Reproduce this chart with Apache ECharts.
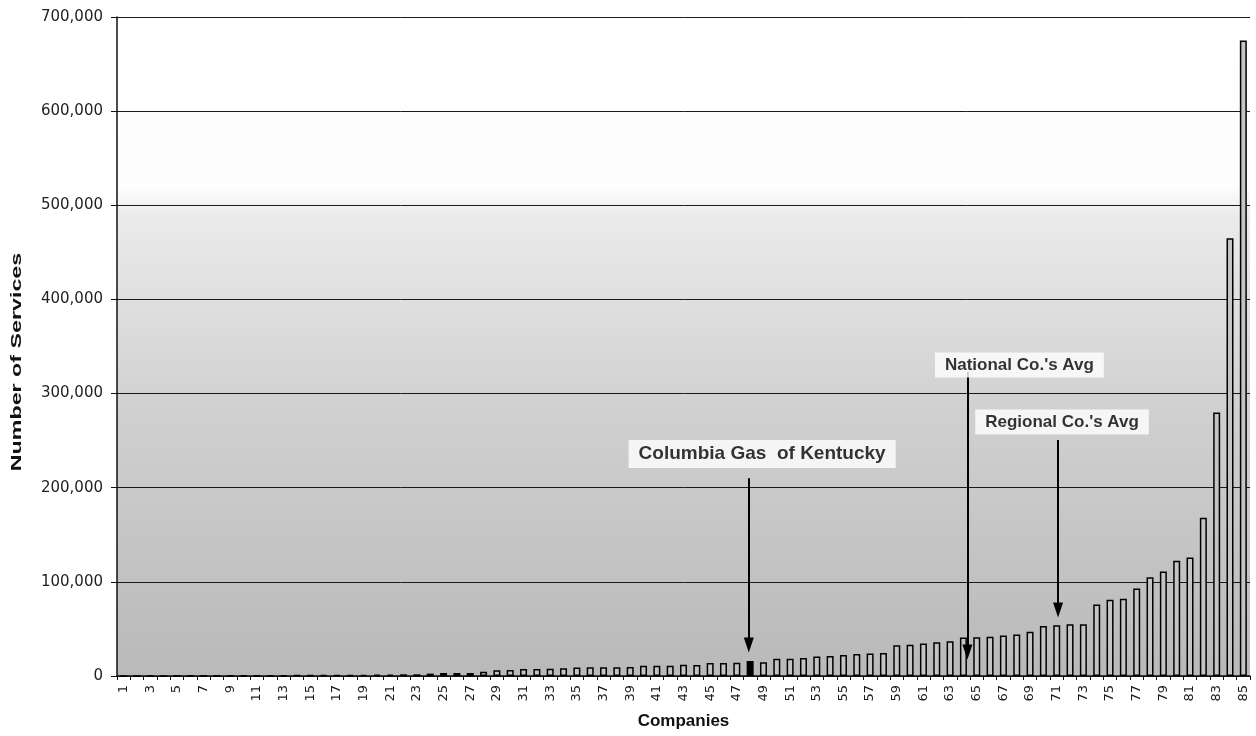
<!DOCTYPE html>
<html>
<head>
<meta charset="utf-8">
<script src="https://cdn.jsdelivr.net/npm/echarts@6/dist/echarts.min.js"></script>
<style>
  html, body { margin: 0; padding: 0; background: #ffffff; }
  #chart { width: 1256px; height: 736px; }
</style>
</head>
<body>
<div id="chart"></div>
<script>
// Number of services per gas distribution company, sorted ascending
const companies = [];
for (let i = 1; i <= 85; i++) companies.push(String(i));

const services = [
  100, 150, 200, 250, 300, 350, 400, 450, 500, 550,
  600, 700, 750, 800, 900, 1000, 1100, 1200, 1300, 1400,
  1500, 1800, 1800, 2500, 3200, 3200, 3200, 4600, 6000, 6400,
  7400, 7400, 7800, 8100, 8900, 9200, 9200, 9200, 9600, 11000,
  11000, 11000, 12000, 11700, 13800, 13800, 14200, 16000, 14500, 18400,
  18400, 19100, 20600, 21300, 22300, 23400, 23800, 24500, 32600, 33300,
  34400, 35800, 36900, 40800, 41100, 41800, 43000, 44000, 47000, 53000,
  54000, 55000, 55000, 76000, 81000, 82000, 93000, 105000, 111000, 122500,
  126000, 168000, 280000, 465000, 675000
];

// Highlighted company (Columbia Gas of Kentucky), 1-based position
const highlightIndex = 48;

const yTicks = [0, 100000, 200000, 300000, 400000, 500000, 600000, 700000];
const yTitle = 'Number of Services';

// Callouts: label text, label centre (company position, services), arrow x, arrow start, arrow tip
const calloutText = ['Columbia Gas  of Kentucky', "National Co.'s Avg", "Regional Co.'s Avg"];
const calloutLabelX = [48.9, 68.2, 71.4];
const calloutLabelY = [235800, 330400, 269800];
const arrowX = [47.9, 64.3, 71.1];
const arrowFrom = [210000, 323000, 250700];
const arrowTo = [33000, 25500, 70000];

const chart = echarts.init(document.getElementById('chart'), null, { renderer: 'canvas' });

const barData = services.map((v, i) => ({
  value: v,
  itemStyle: (i + 1 === highlightIndex)
    ? { color: '#000000', borderColor: '#000000' }
    : undefined
}));

const arrowLines = arrowX.map((x, i) => [
  { coord: [x, arrowFrom[i]], symbol: 'none' },
  { coord: [x, arrowTo[i]], symbol: 'triangle', symbolSize: [10, 15], symbolRotate: 180 }
]);

// the company callout uses a slightly larger type than the two averages
const labelPoints = calloutText.map((t, i) => ({
  value: [calloutLabelX[i], calloutLabelY[i]],
  name: t,
  label: i === 0 ? { fontSize: 19, lineHeight: 20, padding: [4, 10, 4, 10] } : undefined
}));

const bodyFont = 'DejaVu Sans';
const boldFont = 'Liberation Sans, Arial';

chart.setOption({
  animation: false,
  backgroundColor: '#ffffff',
  grid: {
    left: 117, right: 6, top: 17, bottom: 60,
    outerBoundsMode: 'none',
    containLabel: false,
    show: true,
    borderWidth: 0,
    backgroundColor: {
      type: 'linear', x: 0, y: 0, x2: 0, y2: 1,
      colorStops: [
        { offset: 0, color: '#ffffff' },
        { offset: 0.26, color: '#fdfdfd' },
        { offset: 0.3, color: '#ebebeb' },
        { offset: 0.6, color: '#d0d0d0' },
        { offset: 1, color: '#b9b9b9' }
      ]
    }
  },
  // vertical axis title, drawn with wide letter proportions
  graphic: [{
    type: 'text',
    x: 17,
    y: 362,
    rotation: Math.PI / 2,
    scaleX: 1.55,
    style: {
      text: yTitle,
      font: 'bold 15px "Liberation Sans", Arial',
      fill: '#111',
      textAlign: 'center',
      textVerticalAlign: 'middle'
    }
  }],
  xAxis: [
    {
      type: 'category',
      data: companies,
      name: 'Companies',
      nameLocation: 'middle',
      nameGap: 37,
      nameTextStyle: { fontFamily: boldFont, fontWeight: 'bold', fontSize: 17, color: '#111' },
      axisLine: { lineStyle: { color: '#111', width: 1.5 } },
      axisTick: { show: true, alignWithLabel: false, interval: 0, length: 4, lineStyle: { color: '#111' } },
      axisLabel: {
        interval: 1, rotate: 90, fontFamily: bodyFont, fontSize: 13, color: '#1a1a1a', margin: 9
      },
      splitLine: { show: false }
    },
    {
      type: 'value',
      min: 0.5, max: 85.5,
      show: false
    }
  ],
  yAxis: {
    type: 'value',
    min: 0, max: 700000, interval: 100000,
    axisLine: { show: true, lineStyle: { color: '#111', width: 1.5 } },
    axisTick: { show: true, length: 6, inside: false, lineStyle: { color: '#111' } },
    axisLabel: {
      fontFamily: bodyFont, fontSize: 15, color: '#222', margin: 14,
      formatter: v => yTicks.includes(v) ? v.toLocaleString('en-US') : ''
    },
    splitLine: { show: true, lineStyle: { color: '#1a1a1a', width: 1 } }
  },
  series: [
    {
      type: 'bar',
      data: barData,
      barWidth: 7,
      itemStyle: { color: '#c4c4c4', borderColor: '#000000', borderWidth: 1.5 },
      z: 3
    },
    {
      type: 'scatter',
      xAxisIndex: 1,
      data: labelPoints,
      symbolSize: 0,
      z: 5,
      label: {
        show: true,
        position: 'inside',
        formatter: p => p.name,
        fontFamily: boldFont,
        fontWeight: 'bold',
        fontSize: 17,
        lineHeight: 19,
        color: '#000',
        backgroundColor: '#ffffff',
        padding: [3, 10, 3, 10]
      },
      markLine: {
        silent: true,
        animation: false,
        label: { show: false },
        lineStyle: { color: '#000', width: 2, type: 'solid' },
        data: arrowLines
      }
    }
  ]
});
</script>
</body>
</html>
